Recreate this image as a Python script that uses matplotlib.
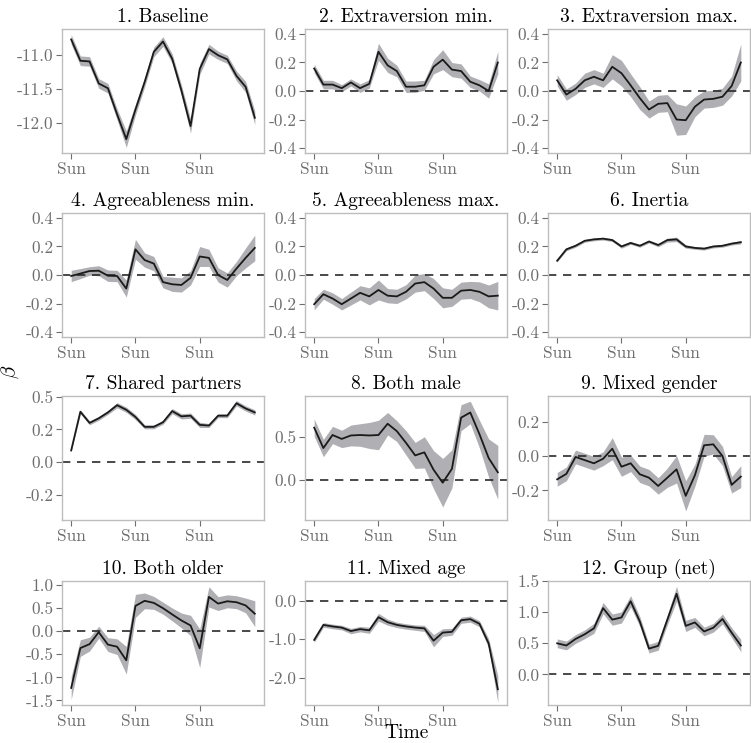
import matplotlib
matplotlib.use("Agg")
import matplotlib.pyplot as plt
import numpy as np

plt.rcParams['font.family'] = ['cmr10', 'DejaVu Serif']
plt.rcParams['mathtext.fontset'] = 'cm'
plt.rcParams['axes.unicode_minus'] = False

days = list(range(21))
xtick_pos = [0, 7, 14]
xtick_labels = ["Sun", "Sun", "Sun"]

titles = ["1. Baseline", "2. Extraversion min.", "3. Extraversion max.",
          "4. Agreeableness min.", "5. Agreeableness max.", "6. Inertia",
          "7. Shared partners", "8. Both male", "9. Mixed gender",
          "10. Both older", "11. Mixed age", "12. Group (net)"]

est_1 = [-10.78, -11.09, -11.10, -11.42, -11.49, -11.87, -12.23, -11.80, -11.40, -10.96, -10.81,
         -11.06, -11.52, -12.04, -11.21, -10.92, -11.01, -11.07, -11.31, -11.47, -11.92]
hw_1 = [0.07, 0.07, 0.07, 0.07, 0.07, 0.08, 0.12, 0.08, 0.07, 0.07, 0.07,
        0.07, 0.08, 0.10, 0.08, 0.07, 0.06, 0.06, 0.07, 0.08, 0.10]

est_2 = [0.158, 0.045, 0.045, 0.02, 0.06, 0.02, 0.05, 0.275, 0.18, 0.14, 0.03,
         0.03, 0.04, 0.17, 0.22, 0.15, 0.14, 0.065, 0.04, 0.0, 0.20]
hw_2 = [0.03, 0.03, 0.03, 0.025, 0.025, 0.03, 0.03, 0.06, 0.05, 0.04, 0.04,
        0.04, 0.035, 0.05, 0.07, 0.05, 0.05, 0.04, 0.04, 0.05, 0.08]

est_3 = [0.075, -0.025, 0.015, 0.075, 0.10, 0.075, 0.17, 0.125, 0.04, -0.05, -0.13,
         -0.09, -0.085, -0.20, -0.205, -0.11, -0.06, -0.055, -0.04, 0.035, 0.20]
hw_3 = [0.04, 0.04, 0.04, 0.05, 0.05, 0.05, 0.085, 0.09, 0.08, 0.08, 0.06,
        0.06, 0.06, 0.11, 0.10, 0.07, 0.06, 0.06, 0.06, 0.07, 0.13]

est_4 = [-0.007, 0.01, 0.028, 0.03, -0.005, -0.007, -0.095, 0.18, 0.105, 0.08, -0.05,
         -0.065, -0.07, -0.02, 0.13, 0.12, 0.0, -0.035, 0.045, 0.12, 0.19]
hw_4 = [0.04, 0.035, 0.03, 0.035, 0.04, 0.04, 0.06, 0.07, 0.05, 0.05, 0.04,
        0.05, 0.05, 0.05, 0.07, 0.06, 0.05, 0.05, 0.05, 0.07, 0.09]

est_5 = [-0.205, -0.135, -0.165, -0.205, -0.165, -0.125, -0.15, -0.105, -0.145, -0.15, -0.118,
         -0.06, -0.05, -0.095, -0.16, -0.16, -0.11, -0.105, -0.118, -0.15, -0.145]
hw_5 = [0.04, 0.035, 0.04, 0.04, 0.045, 0.05, 0.06, 0.07, 0.05, 0.05, 0.05,
        0.06, 0.06, 0.07, 0.07, 0.06, 0.06, 0.06, 0.07, 0.08, 0.10]

est_6 = [0.10, 0.18, 0.205, 0.24, 0.25, 0.255, 0.245, 0.20, 0.225, 0.205, 0.235,
         0.21, 0.245, 0.25, 0.20, 0.19, 0.185, 0.20, 0.205, 0.22, 0.23]
hw_6 = [0.008, 0.01, 0.01, 0.01, 0.01, 0.01, 0.01, 0.012, 0.01, 0.01, 0.01,
        0.012, 0.014, 0.016, 0.012, 0.01, 0.01, 0.01, 0.01, 0.01, 0.012]

est_7 = [0.09, 0.385, 0.30, 0.335, 0.38, 0.435, 0.40, 0.345, 0.27, 0.27, 0.305,
         0.39, 0.35, 0.355, 0.285, 0.28, 0.355, 0.355, 0.45, 0.41, 0.38]
hw_7 = [0.01, 0.015, 0.015, 0.015, 0.015, 0.02, 0.02, 0.02, 0.015, 0.015, 0.015,
        0.02, 0.02, 0.02, 0.02, 0.015, 0.015, 0.015, 0.02, 0.02, 0.02]

est_8 = [0.605, 0.37, 0.52, 0.475, 0.515, 0.52, 0.515, 0.52, 0.65, 0.565, 0.43,
         0.285, 0.32, 0.12, -0.03, 0.13, 0.72, 0.78, 0.53, 0.255, 0.09]
hw_8 = [0.10, 0.10, 0.10, 0.10, 0.12, 0.13, 0.15, 0.17, 0.13, 0.12, 0.14,
        0.15, 0.18, 0.22, 0.28, 0.22, 0.15, 0.13, 0.16, 0.22, 0.31]

est_9 = [-0.17, -0.13, -0.007, -0.03, -0.053, -0.02, 0.053, -0.078, -0.053, -0.133, -0.158,
         -0.218, -0.158, -0.097, -0.29, -0.14, 0.078, 0.085, 0.0, -0.21, -0.15]
hw_9 = [0.05, 0.05, 0.05, 0.05, 0.05, 0.05, 0.08, 0.07, 0.06, 0.06, 0.06,
        0.06, 0.07, 0.10, 0.11, 0.08, 0.08, 0.07, 0.07, 0.06, 0.08]

est_10 = [-1.23, -0.365, -0.28, -0.02, -0.29, -0.335, -0.63, 0.55, 0.66, 0.615, 0.50,
          0.365, 0.235, 0.125, -0.37, 0.745, 0.60, 0.65, 0.63, 0.56, 0.38]
hw_10 = [0.25, 0.18, 0.15, 0.13, 0.15, 0.17, 0.30, 0.25, 0.17, 0.14, 0.13,
         0.14, 0.16, 0.22, 0.42, 0.22, 0.15, 0.14, 0.14, 0.16, 0.28]

est_11 = [-1.02, -0.63, -0.67, -0.70, -0.79, -0.74, -0.77, -0.43, -0.56, -0.63, -0.67,
          -0.70, -0.72, -1.04, -0.83, -0.81, -0.51, -0.48, -0.60, -1.11, -2.30]
hw_11 = [0.07, 0.06, 0.06, 0.06, 0.07, 0.07, 0.08, 0.10, 0.08, 0.07, 0.07,
         0.07, 0.08, 0.16, 0.10, 0.09, 0.08, 0.08, 0.08, 0.12, 0.35]

est_12 = [0.50, 0.465, 0.57, 0.645, 0.74, 1.065, 0.88, 0.915, 1.175, 0.85, 0.415,
          0.46, 0.88, 1.295, 0.78, 0.835, 0.69, 0.75, 0.89, 0.67, 0.465]
hw_12 = [0.07, 0.07, 0.07, 0.07, 0.08, 0.09, 0.09, 0.09, 0.09, 0.08, 0.07,
         0.07, 0.08, 0.12, 0.09, 0.08, 0.07, 0.07, 0.08, 0.08, 0.10]

estimates = [est_1, est_2, est_3, est_4, est_5, est_6, est_7, est_8, est_9, est_10, est_11, est_12]
halfwidths = [hw_1, hw_2, hw_3, hw_4, hw_5, hw_6, hw_7, hw_8, hw_9, hw_10, hw_11, hw_12]

yticks = [[-12.0, -11.5, -11.0],
          [-0.4, -0.2, 0.0, 0.2, 0.4], [-0.4, -0.2, 0.0, 0.2, 0.4], [-0.4, -0.2, 0.0, 0.2, 0.4],
          [-0.4, -0.2, 0.0, 0.2, 0.4], [-0.4, -0.2, 0.0, 0.2, 0.4],
          [-0.25, 0.0, 0.25, 0.5], [0.0, 0.5], [-0.25, 0.0, 0.25],
          [-1.5, -1.0, -0.5, 0.0, 0.5, 1.0], [-2.0, -1.0, 0.0], [0.0, 0.5, 1.0, 1.5]]
ylims = [None, (-0.435, 0.435), (-0.435, 0.435), (-0.435, 0.435), (-0.435, 0.435), (-0.435, 0.435),
         (-0.44, 0.505), (-0.46, 0.97), (-0.466, 0.437), (-1.60, 1.09), (-2.71, 0.51), (-0.49, 1.5)]

W, H = 751, 743
fig = plt.figure(figsize=(W / 100, H / 100), dpi=100)
lefts = [62, 305, 548]
tops = [29, 213, 396, 581]
aw, ah = 202, 124

grey = '#6e6e6e'
band = '#b0b0b4'
spine = '#bdbdbd'

for i in range(12):
    r, c = divmod(i, 3)
    ax = fig.add_axes([lefts[c] / W, 1 - (tops[r] + ah) / H, aw / W, ah / H])
    y = np.array(estimates[i])
    h = np.array(halfwidths[i])
    ax.fill_between(days, y - h, y + h, color=band, lw=0, zorder=1)
    ax.plot(days, y, color='#1a1a1a', lw=1.3, zorder=3)
    if i != 0:
        ax.axhline(0, color='#2a2a2a', lw=1.2, ls=(0, (5, 4)), zorder=2)
    if ylims[i] is not None:
        ax.set_ylim(*ylims[i])
    ax.set_xticks(xtick_pos)
    ax.set_xticklabels(xtick_labels)
    ax.set_yticks(yticks[i])
    ax.set_yticklabels(['%.1f' % v for v in yticks[i]])
    ax.set_title(titles[i], fontsize=14, pad=5)
    ax.tick_params(axis='both', colors=grey, labelsize=12.5, length=4, width=0.8, pad=2)
    for s in ax.spines.values():
        s.set_color(spine)
        s.set_linewidth(1.0)

fig.text(0.014, 0.5, r'$\beta$', rotation=90, fontsize=15, va='center', ha='center')
fig.text(406 / W, 5.0 / H, 'Time', fontsize=14, ha='center', va='baseline')

fig.savefig('out.png', dpi=100)
